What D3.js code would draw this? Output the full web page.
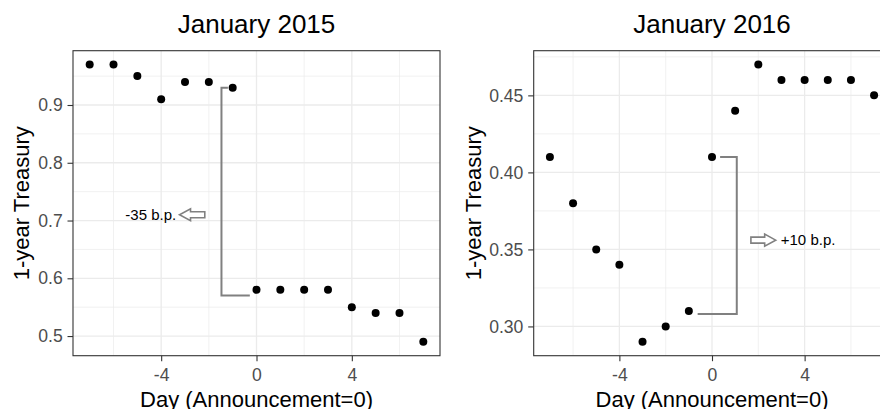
<!DOCTYPE html>
<html>
<head>
<meta charset="utf-8">
<script src="https://cdn.jsdelivr.net/npm/d3@7"></script>
<style>
  body { margin: 0; background: white; }
  svg { display: block; font-family: "Liberation Sans", Arial, sans-serif; }
</style>
</head>
<body>
<svg id="chart" width="880" height="409"></svg>
<script>
// days relative to the announcement
var days = [-7, -6, -5, -4, -3, -2, -1, 0, 1, 2, 3, 4, 5, 6, 7];
var rates2015 = [0.97, 0.97, 0.95, 0.91, 0.94, 0.94, 0.93, 0.58, 0.58, 0.58, 0.58, 0.55, 0.54, 0.54, 0.49];
var rates2016 = [0.41, 0.38, 0.35, 0.34, 0.29, 0.30, 0.31, 0.41, 0.44, 0.47, 0.46, 0.46, 0.46, 0.46, 0.45];

var titles = ["January 2015", "January 2016"];
var xTicks = [-4, 0, 4];
var yTicks2015 = [0.5, 0.6, 0.7, 0.8, 0.9];
var yTicks2016 = [0.30, 0.35, 0.40, 0.45];

// bracket paths (day, rate) and arrow annotation
var bracket2015 = [[-1.2, 0.93], [-1.47, 0.93], [-1.47, 0.57], [-0.28, 0.57]];
var bracket2016 = [[0.35, 0.41], [1.07, 0.41], [1.07, 0.308], [-0.62, 0.308]];
var arrow2015 = { from: -2.17, to: -3.23, y: 0.71, labelX: -3.37, label: "-35 b.p." };
var arrow2016 = { from: 1.68, to: 2.75, y: 0.356, labelX: 2.97, label: "+10 b.p." };

const svg = d3.select("#chart");

const panelTop = 50.7, panelBottom = 355.7;

function expand(ext) {
  var pad = (ext[1] - ext[0]) * 0.05;
  return [ext[0] - pad, ext[1] + pad];
}

function drawPanel(opts) {
  var x = d3.scaleLinear().domain(expand(d3.extent(days))).range([opts.left, opts.right]);
  var y = d3.scaleLinear().domain(expand(d3.extent(opts.values))).range([panelBottom, panelTop]);

  var g = svg.append("g");

  // minor grid
  var xMinor = xTicks.slice(0, -1).map((d, i) => (d + xTicks[i + 1]) / 2)
    .concat([xTicks[0] - 2, xTicks[xTicks.length - 1] + 2]);
  var yt = opts.yTicks, step = yt[1] - yt[0];
  var yMinor = yt.map(d => d - step / 2).concat([yt[yt.length - 1] + step / 2]);
  var yd = y.domain();
  yMinor = yMinor.filter(d => d >= yd[0] && d <= yd[1]);

  g.selectAll(".xminor").data(xMinor).enter().append("line")
    .attr("x1", d => x(d)).attr("x2", d => x(d))
    .attr("y1", panelTop).attr("y2", panelBottom)
    .style("stroke", "#ebebeb").style("stroke-width", 0.7);
  g.selectAll(".yminor").data(yMinor).enter().append("line")
    .attr("x1", opts.left).attr("x2", opts.right)
    .attr("y1", d => y(d)).attr("y2", d => y(d))
    .style("stroke", "#ebebeb").style("stroke-width", 0.7);

  // major grid
  g.selectAll(".xmajor").data(xTicks).enter().append("line")
    .attr("x1", d => x(d)).attr("x2", d => x(d))
    .attr("y1", panelTop).attr("y2", panelBottom)
    .style("stroke", "#ebebeb").style("stroke-width", 1.3);
  g.selectAll(".ymajor").data(yt).enter().append("line")
    .attr("x1", opts.left).attr("x2", opts.right)
    .attr("y1", d => y(d)).attr("y2", d => y(d))
    .style("stroke", "#ebebeb").style("stroke-width", 1.3);

  // bracket
  g.append("path")
    .attr("d", d3.line().x(d => x(d[0])).y(d => y(d[1]))(opts.bracket))
    .style("fill", "none")
    .style("stroke", "#808080")
    .style("stroke-width", 2);

  // hollow arrow
  var a = opts.arrow;
  var x0 = x(a.from), x1 = x(a.to), ay = y(a.y);
  var dir = x1 > x0 ? 1 : -1;
  var headLen = 11, headH = 6, shaftH = 3;
  var xh = x1 - dir * headLen;
  var pts = [[x0, ay - shaftH], [xh, ay - shaftH], [xh, ay - headH], [x1, ay],
             [xh, ay + headH], [xh, ay + shaftH], [x0, ay + shaftH]];
  g.append("path")
    .attr("d", "M" + pts.map(p => p.join(",")).join("L") + "Z")
    .style("fill", "white")
    .style("stroke", "#808080")
    .style("stroke-width", 1.6);
  g.append("text")
    .attr("x", x(a.labelX))
    .attr("y", ay)
    .attr("dy", "0.35em")
    .attr("text-anchor", dir > 0 ? "start" : "end")
    .style("font-size", "15px")
    .style("fill", "black")
    .text(a.label);

  // points
  g.selectAll("circle").data(days).enter().append("circle")
    .attr("cx", d => x(d))
    .attr("cy", (d, i) => y(opts.values[i]))
    .attr("r", 4)
    .style("fill", "black");

  // panel border
  g.append("rect")
    .attr("x", opts.left).attr("y", panelTop)
    .attr("width", opts.right - opts.left).attr("height", panelBottom - panelTop)
    .style("fill", "none").style("stroke", "#333333").style("stroke-width", 1.1);

  // axes
  var xAxis = g.append("g")
    .attr("transform", "translate(0," + panelBottom + ")")
    .call(d3.axisBottom(x).tickValues(xTicks).tickSize(5.5).tickPadding(7).tickFormat(d3.format("d")));
  var yAxis = g.append("g")
    .attr("transform", "translate(" + opts.left + ",0)")
    .call(d3.axisLeft(y).tickValues(yt).tickSize(5.5).tickPadding(4.8).tickFormat(d3.format(opts.fmt)));
  [xAxis, yAxis].forEach(function(ax) {
    ax.select(".domain").remove();
    ax.selectAll(".tick line").style("stroke", "#333333").style("stroke-width", 1.1);
    ax.selectAll(".tick text")
      .style("fill", "#4d4d4d")
      .style("font-size", "17.6px")
      .style("font-family", "'Liberation Sans', Arial, sans-serif");
  });
  xAxis.selectAll(".tick text").text(d => d < 0 ? "-" + Math.abs(d) : d);

  var cx = (opts.left + opts.right) / 2;
  svg.append("text")
    .attr("x", cx).attr("y", 32.7)
    .attr("text-anchor", "middle")
    .style("font-size", "26px")
    .text(opts.title);
  svg.append("text")
    .attr("x", cx).attr("y", 406.5)
    .attr("text-anchor", "middle")
    .style("font-size", "22px")
    .text("Day (Announcement=0)");
  svg.append("text")
    .attr("transform", "translate(" + opts.ylabX + "," + ((panelTop + panelBottom) / 2) + ") rotate(-90)")
    .attr("text-anchor", "middle")
    .style("font-size", "22px")
    .text("1-year Treasury");
}

drawPanel({ left: 73, right: 440, values: rates2015, yTicks: yTicks2015, fmt: ".1f",
  bracket: bracket2015, arrow: arrow2015, title: titles[0], ylabX: 29 });
drawPanel({ left: 533.7, right: 890.3, values: rates2016, yTicks: yTicks2016, fmt: ".2f",
  bracket: bracket2016, arrow: arrow2016, title: titles[1], ylabX: 481 });
</script>
</body>
</html>
